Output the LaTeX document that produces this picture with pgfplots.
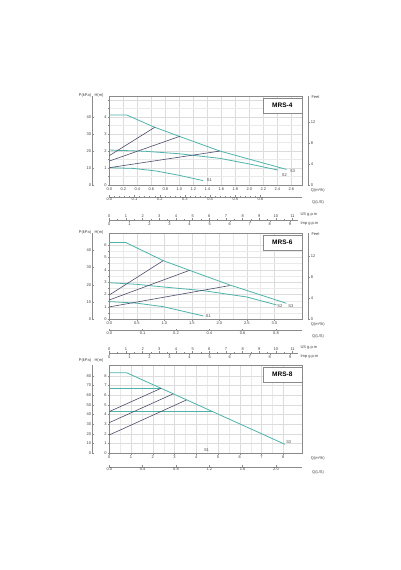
\documentclass[border=0pt]{standalone}
\usepackage{fontspec}
\setmainfont{Liberation Sans}
\usepackage{pgfplots}
\pgfplotsset{compat=1.18}

\definecolor{curve}{HTML}{4DB3AB}
\definecolor{sysline}{HTML}{4C4C6A}
\definecolor{gridc}{HTML}{DCDCDC}
\definecolor{axc}{HTML}{8A8A8A}

\newcommand{\tfont}{\fontsize{4}{4.5}\selectfont}

\tikzset{
  title box/.style={draw=axc, fill=white, line width=0.3pt,
    font=\bfseries\fontsize{6.5}{7}\selectfont,
    minimum width=39pt, minimum height=15pt, anchor=north east, inner sep=0pt},
  side/.style={font=\tfont, text=black!75, inner sep=0pt},
}

\pgfplotsset{
  base/.style={
    scale only axis, clip=false,
    axis line style={axc, line width=0.35pt, -},
    tick style={axc, line width=0.3pt},
    major tick length=1.6pt, minor tick length=0.9pt,
    tick label style={font=\tfont, text=black!75, inner sep=0.8pt},
    /pgf/number format/assume math mode=true,
  },
  plain lines/.style={
    every inner x axis line/.append style={-},
    every outer x axis line/.append style={-},
    every inner y axis line/.append style={-},
    every outer y axis line/.append style={-},
    axis line style={-},
  },
  panel/.style={
    base, width=192.7pt, xmin=0, ymin=0,
    tick pos=left, tick align=outside,
    grid=both,
    major grid style={gridc, line width=0.3pt},
    minor grid style={gridc!60, line width=0.25pt},
  },
  pump/.style={curve, line width=0.8pt},
  sys/.style={sysline, line width=0.6pt},
  paxis/.style={
    base, width=0.5pt, xmin=0, xmax=1, ymin=0,
    axis x line=none, axis y line=left, plain lines,
    tick align=inside, minor y tick num=4,
  },
  faxis/.style={
    base, width=0.5pt, xmin=0, xmax=1, ymin=0,
    axis x line=none, axis y line=right, plain lines,
    tick align=outside, minor y tick num=3,
  },
  laxis/.style={
    base, width=192.7pt, height=0.5pt, xmin=0, xmax=192.7, ymin=0, ymax=1,
    axis y line=none, axis x line=bottom, plain lines,
    tick align=inside, minor x tick num=4,
  },
  usaxis/.style={
    base, width=189pt, height=0.5pt, xmin=0, xmax=11.34, ymin=0, ymax=1,
    axis y line=none, axis x line=top, plain lines, tick align=outside,
    xtick={0,...,11}, minor x tick num=1,
  },
  impaxis/.style={
    base, width=189pt, height=0.5pt, xmin=0, xmax=9.42, ymin=0, ymax=1,
    axis y line=none, axis x line=bottom, plain lines, tick align=outside,
    xtick={0,...,9}, minor x tick num=1,
  },
}

\begin{document}
\begin{tikzpicture}[x=1pt,y=1pt]
\path[use as bounding box] (0,0) rectangle (400,570);

% ================= MRS-4 =================
\begin{axis}[panel, at={(109.3pt,385.3pt)}, height=88.7pt,
  xmax=2.753, ymax=5.22,
  xtick={0,0.2,...,2.61}, ytick={0,...,5}, yticklabels={0,1,2,3,4,{}},
  xticklabel style={/pgf/number format/.cd, fixed, fixed zerofill, precision=1},
  minor y tick num=1]
\addplot[pump] coordinates {(0,4.1) (0.25,4.1) (0.63,3.41) (0.99,2.86) (1.58,1.98) (2.53,0.9)};
\addplot[pump] coordinates {(0,2.04) (0.5,1.97) (1.0,1.82) (1.58,1.55) (2.0,1.22) (2.41,0.86)};
\addplot[pump] coordinates {(0,1.0) (0.34,0.96) (0.68,0.8) (1.0,0.55) (1.34,0.24)};
\addplot[sys] coordinates {(0,1.71) (0.65,3.38)};
\addplot[sys] coordinates {(0,1.39) (1.01,2.85)};
\addplot[sys] coordinates {(0,1.0) (1.58,1.98)};
\node[side] at (axis cs:2.62,0.78) {S3};
\node[side] at (axis cs:2.50,0.58) {S2};
\node[side] at (axis cs:1.43,0.24) {S1};
\node[title box, yshift=-2pt] at (rel axis cs:1,1) {MRS-4};
\node[side, anchor=west, xshift=8.7pt, yshift=-5.3pt] at (rel axis cs:1,0) {Q(m³/h)};
\end{axis}
\begin{axis}[paxis, at={(92pt,385.3pt)}, height=88.7pt, ymax=52.2, ytick={0,10,...,40}]
\node[side, xshift=-7pt, yshift=1pt] at (rel axis cs:0,1) {P(kPa)};
\node[side, xshift=7pt, yshift=1pt] at (rel axis cs:0,1) {H(m)};
\end{axis}
\begin{axis}[faxis, at={(307.8pt,385.3pt)}, height=88.7pt, ymax=17.06, ytick={0,4,8,12}]
\node[side, anchor=west, xshift=3pt, yshift=-1pt] at (rel axis cs:1,1) {Feet};
\end{axis}
\begin{axis}[laxis, at={(109.3pt,373.3pt)},
  xtick={0,25.2,50.4,75.6,100.8,126,151.2},
  xticklabels={0.0,0.1,0.2,0.3,0.4,0.5,0.6}]
\node[side, anchor=west, xshift=10pt, yshift=-6pt] at (rel axis cs:1,0) {Q(L/S)};
\end{axis}
\begin{axis}[usaxis, at={(109.3pt,349.5pt)}]
\node[side, anchor=west, xshift=2pt, yshift=5pt] at (rel axis cs:1,1) {US g.p.m};
\end{axis}
\begin{axis}[impaxis, at={(109.3pt,350pt)}]
\node[side, anchor=west, xshift=2pt, yshift=-4pt] at (rel axis cs:1,0) {Imp g.p.m};
\end{axis}

% ================= MRS-6 =================
\begin{axis}[panel, at={(109.3pt,250.7pt)}, height=86.3pt,
  xmax=3.504, ymax=6.96,
  xtick={0,0.5,...,3.01}, ytick={0,...,6},
  xticklabel style={/pgf/number format/.cd, fixed, fixed zerofill, precision=1},
  minor x tick num=1, minor y tick num=1]
\addplot[pump] coordinates {(0,6.19) (0.3,6.19) (0.98,4.73) (1.47,3.93) (2.19,2.77) (3.22,1.29)};
\addplot[pump] coordinates {(0,2.95) (0.5,2.82) (1.0,2.6) (1.71,2.31) (2.5,1.8) (3.04,1.16)};
\addplot[pump] coordinates {(0,1.43) (0.5,1.3) (0.98,1.02) (1.71,0.27)};
\addplot[sys] coordinates {(0,1.96) (0.98,4.73)};
\addplot[sys] coordinates {(0,1.56) (1.46,3.95)};
\addplot[sys] coordinates {(0,1.0) (2.19,2.72)};
\node[side] at (axis cs:3.30,1.08) {S3};
\node[side] at (axis cs:3.10,1.08) {S2};
\node[side] at (axis cs:1.80,0.27) {S1};
\node[title box, yshift=-2pt] at (rel axis cs:1,1) {MRS-6};
\node[side, anchor=west, xshift=8.7pt, yshift=-5.3pt] at (rel axis cs:1,0) {Q(m³/h)};
\end{axis}
\begin{axis}[paxis, at={(92pt,250.7pt)}, height=86.3pt, ymax=49.9, ytick={0,10,...,40}]
\node[side, xshift=-7pt, yshift=1pt] at (rel axis cs:0,1) {P(kPa)};
\node[side, xshift=7pt, yshift=1pt] at (rel axis cs:0,1) {H(m)};
\end{axis}
\begin{axis}[faxis, at={(307.8pt,250.7pt)}, height=86.3pt, ymax=16.35, ytick={0,4,8,12}]
\node[side, anchor=west, xshift=3pt, yshift=-1pt] at (rel axis cs:1,1) {Feet};
\end{axis}
\begin{axis}[laxis, at={(109.3pt,239.5pt)},
  xtick={0,33.3,66.7,100,133.3,166.7},
  xticklabels={0.0,0.1,0.2,0.4,0.6,0.8}]
\node[side, anchor=west, xshift=10pt, yshift=-6pt] at (rel axis cs:1,0) {Q(L/S)};
\end{axis}
\begin{axis}[usaxis, at={(109.3pt,216.5pt)}]
\node[side, anchor=west, xshift=2pt, yshift=5pt] at (rel axis cs:1,1) {US g.p.m};
\end{axis}
\begin{axis}[impaxis, at={(109.3pt,217pt)}]
\node[side, anchor=west, xshift=2pt, yshift=-4pt] at (rel axis cs:1,0) {Imp g.p.m};
\end{axis}

% ================= MRS-8 =================
\begin{axis}[panel, at={(109.3pt,116.7pt)}, height=88.3pt,
  xmax=8.86, ymax=9.1,
  xtick={0,...,8}, ytick={0,...,8},
  minor x tick num=1]
\addplot[pump] coordinates {(0,8.3) (0.8,8.3) (8.07,0.93)};
\addplot[pump] coordinates {(0,6.7) (2.38,6.7)};
\addplot[pump] coordinates {(0,4.3) (4.75,4.3)};
\addplot[sys] coordinates {(0,4.3) (2.38,6.7)};
\addplot[sys] coordinates {(0,3.16) (2.94,6.13)};
\addplot[sys] coordinates {(0,1.89) (3.55,5.5)};
\node[side] at (axis cs:8.25,1.2) {S3};
\node[side] at (axis cs:4.47,0.34) {S1};
\node[title box, yshift=-2pt] at (rel axis cs:1,1) {MRS-8};
\node[side, anchor=west, xshift=8.7pt, yshift=-5.3pt] at (rel axis cs:1,0) {Q(m³/h)};
\end{axis}
\begin{axis}[paxis, at={(92pt,116.7pt)}, height=88.3pt, ymax=91, ytick={0,10,...,80}]
\node[side, xshift=-7pt, yshift=5pt] at (rel axis cs:0,1) {P(kPa)};
\node[side, xshift=7pt, yshift=5pt] at (rel axis cs:0,1) {H(m)};
\end{axis}
\begin{axis}[laxis, at={(109.3pt,103.3pt)},
  xtick={0,33.3,66.7,100,133.3,166.7},
  xticklabels={0.0,0.4,0.8,1.2,1.6,2.0}]
\node[side, anchor=west, xshift=10pt, yshift=-6pt] at (rel axis cs:1,0) {Q(L/S)};
\end{axis}

\end{tikzpicture}
\end{document}
